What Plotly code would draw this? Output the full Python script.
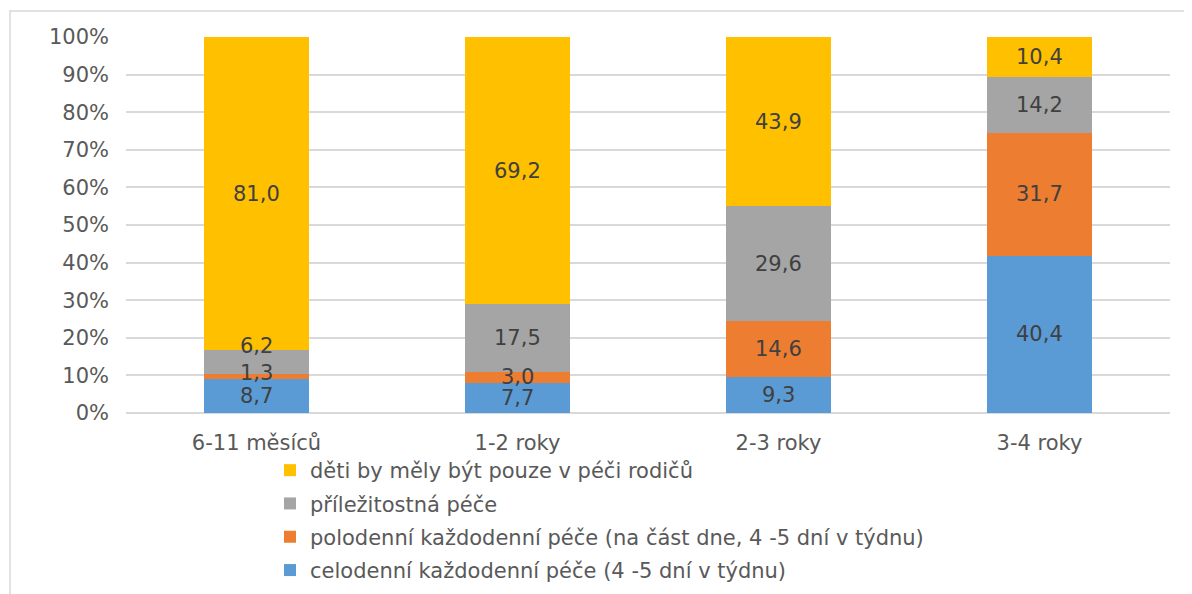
import plotly.graph_objects as go

categories = ["6-11 měsíců", "1-2 roky", "2-3 roky", "3-4 roky"]
series_names = [
    "celodenní každodenní péče (4 -5 dní v týdnu)",
    "polodenní každodenní péče (na část dne, 4 -5 dní v týdnu)",
    "příležitostná péče",
    "děti by měly být pouze v péči rodičů",
]
celodenni = [8.7, 7.7, 9.3, 40.4]
polodenni = [1.3, 3.0, 14.6, 31.7]
prilezitostna = [6.2, 17.5, 29.6, 14.2]
rodice = [81.0, 69.2, 43.9, 10.4]
y_ticks = [0, 10, 20, 30, 40, 50, 60, 70, 80, 90, 100]
y_tick_labels = [f"{v}%" for v in y_ticks]

series_values = [celodenni, polodenni, prilezitostna, rodice]
colors = ["#5B9BD5", "#ED7D31", "#A5A5A5", "#FFC000"]
# pixel nudges for labels that Excel moved apart (series index, category index) -> px
label_nudge = {(1, 0): 4, (2, 0): 16}

FONT = "DejaVu Sans"
FS = 21
W, H = 1192, 594
# plot area in figure pixels
PL, PR, PT, PB = 118, 1162, 29, 405.5

fig = go.Figure()
for i, (name, vals, col) in enumerate(zip(series_names, series_values, colors)):
    fig.add_trace(go.Bar(
        x=categories, y=vals, name=name, legendgroup=name,
        legendrank=len(series_names) - i,
        marker=dict(color=col, line=dict(width=0)),
        hoverinfo="skip",
    ))

totals = [sum(v[i] for v in series_values) for i in range(len(categories))]
annotations = []
for ci, cat in enumerate(categories):
    base = 0.0
    for si, vals in enumerate(series_values):
        pct = vals[ci] / totals[ci] * 100
        center = base + pct / 2
        base += pct
        annotations.append(dict(
            x=cat, y=center, xref="x", yref="y",
            text=f"{vals[ci]:.1f}".replace(".", ","),
            showarrow=False, yshift=label_nudge.get((si, ci), 0),
            font=dict(family=FONT, size=FS, color="#404040"),
        ))

pw, ph = PR - PL, PB - PT
fig.update_layout(
    width=W, height=H,
    margin=dict(l=PL, r=W - PR, t=PT, b=H - PB, autoexpand=False),
    barmode="stack", barnorm="percent", bargap=0.6,
    paper_bgcolor="white", plot_bgcolor="white",
    font=dict(family=FONT, size=FS, color="#595959"),
    showlegend=True,
    legend=dict(
        traceorder="grouped", orientation="v", tracegroupgap=3,
        xref="container", yref="container",
        x=262 / W, xanchor="left",
        y=1 - 442 / H, yanchor="top",
        font=dict(family=FONT, size=FS, color="#595959"),
        bgcolor="rgba(0,0,0,0)",
    ),
    annotations=annotations,
    shapes=[dict(
        type="rect", xref="paper", yref="paper",
        x0=(2 - PL) / pw, x1=(W + 20 - PL) / pw,
        y0=(PB - H - 20) / ph, y1=(PB - 3) / ph,
        line=dict(color="#D9D9D9", width=1.5), fillcolor="rgba(0,0,0,0)",
        layer="below",
    )],
)
fig.update_yaxes(
    range=[0, 100], tickvals=y_ticks, ticktext=y_tick_labels,
    showgrid=True, gridcolor="#D9D9D9", gridwidth=1.5,
    zeroline=True, zerolinecolor="#D9D9D9", zerolinewidth=1.5,
    showline=False, ticks="", ticklabelstandoff=16, automargin=False,
    tickfont=dict(family=FONT, size=FS, color="#595959"),
)
fig.update_xaxes(
    showgrid=False, showline=False, ticks="", ticklabelstandoff=15, automargin=False,
    tickfont=dict(family=FONT, size=FS, color="#595959"),
)

fig.write_html("out.html")
